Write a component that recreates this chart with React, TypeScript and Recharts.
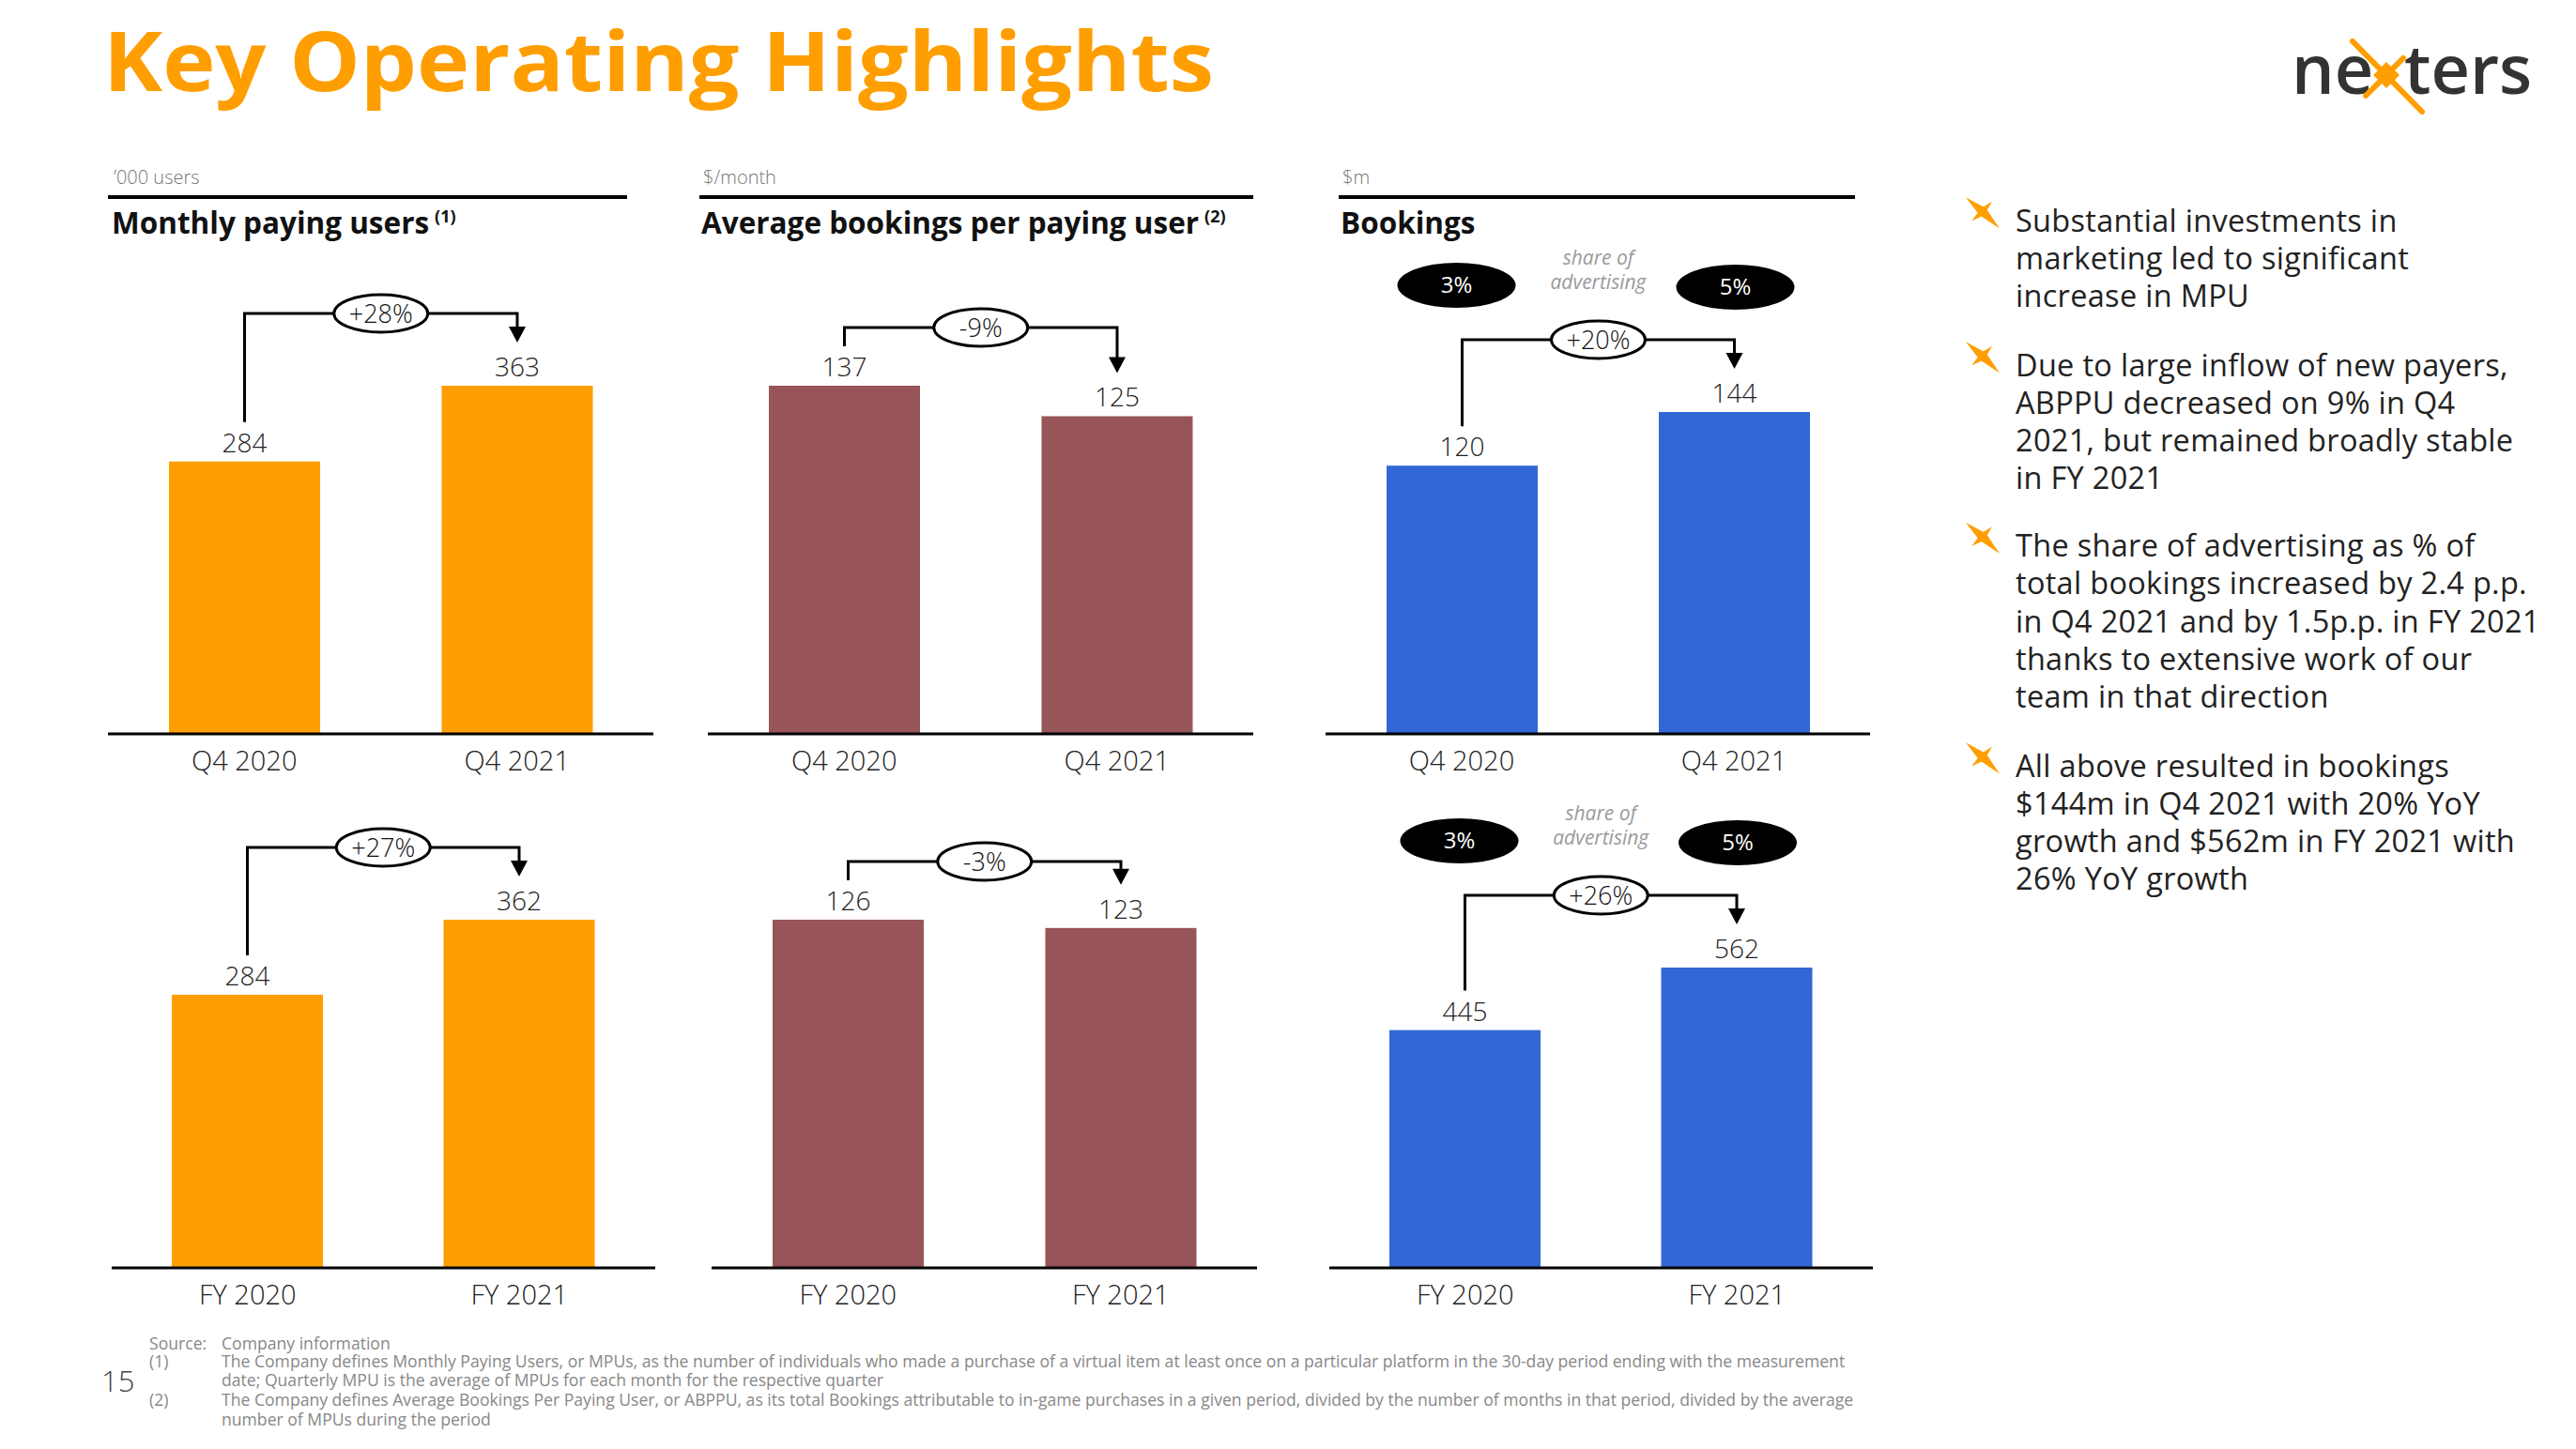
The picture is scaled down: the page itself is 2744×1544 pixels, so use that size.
import React from 'react'
import { BarChart, Bar, XAxis, YAxis, LabelList } from 'recharts'

const quarterLabels = ['Q4 2020', 'Q4 2021']
const yearLabels = ['FY 2020', 'FY 2021']
const mpuQuarter = [284, 363]
const mpuYear = [284, 362]
const abppuQuarter = [137, 125]
const abppuYear = [126, 123]
const bookingsQuarter = [120, 144]
const bookingsYear = [445, 562]
const growthQuarter = ['+28%', '-9%', '+20%']
const growthYear = ['+27%', '-3%', '+26%']
const adShareQuarter = ['3%', '5%']
const adShareYear = ['3%', '5%']

const panelTitles = ['Monthly paying users', 'Average bookings per paying user', 'Bookings']
const panelNotes = ['(1)', '(2)', '']
const panelUnits = ['\u2019000 users', '$/month', '$m']

const bullets = [
  ['Substantial investments in', 'marketing led to significant', 'increase in MPU'],
  ['Due to large inflow of new payers,', 'ABPPU decreased on 9% in Q4', '2021, but remained broadly stable', 'in FY 2021'],
  ['The share of advertising as % of', 'total bookings increased by 2.4 p.p.', 'in Q4 2021 and by 1.5p.p. in FY 2021', 'thanks to extensive work of our', 'team in that direction'],
  ['All above resulted in bookings', '$144m in Q4 2021 with 20% YoY', 'growth and $562m in FY 2021 with', '26% YoY growth'],
]

const footnotes = [
  ['Source:', 'Company information'],
  ['(1)', 'The Company defines Monthly Paying Users, or MPUs, as the number of individuals who made a purchase of a virtual item at least once on a particular platform in the 30-day period ending with the measurement'],
  ['', 'date; Quarterly MPU is the average of MPUs for each month for the respective quarter'],
  ['(2)', 'The Company defines Average Bookings Per Paying User, or ABPPU, as its total Bookings attributable to in-game purchases in a given period, divided by the number of months in that period, divided by the average'],
  ['', 'number of MPUs during the period'],
]

const FONT = "'Open Sans', 'Noto Sans', sans-serif"
const ORANGE = '#FF9E00'
const MAROON = '#975559'
const BLUE = '#3367D6'

type Panel = {
  left: number
  top: number
  width: number
  height: number
  labels: string[]
  values: number[]
  color: string
  growth: string
  share?: string[]
  tallest: number
}

const AXIS_H = 58

function makeShape(p: Panel) {
  return (props: any) => {
    const { x, y, width, height, index, fill } = props
    const rect = <rect x={x} y={y} width={width} height={height} fill={fill} />
    if (index !== p.values.length - 1) return rect
    const base = y + height
    const k = height / p.values[index]
    const band = p.width / p.values.length
    const cx1 = x + width / 2
    const cx0 = cx1 - band
    const top0 = base - p.values[0] * k
    const top1 = y
    const by = Math.min(top0, top1) - (top0 <= top1 ? 62 : 77)
    const mid = (cx0 + cx1) / 2
    const tip = top1 - 46
    return (
      <g>
        {rect}
        <path
          d={`M${cx0},${top0 - 42} V${by} H${cx1} V${tip - 16}`}
          fill="none"
          stroke="#000"
          strokeWidth={3}
        />
        <polygon points={`${cx1 - 9},${tip - 17} ${cx1 + 9},${tip - 17} ${cx1},${tip}`} fill="#000" />
        <ellipse cx={mid} cy={by} rx={50} ry={20} fill="#fff" stroke="#000" strokeWidth={3} />
        <text x={mid} y={by + 10} textAnchor="middle" fontSize={27} fontWeight={300} fill="#111" fontFamily={FONT}>
          {p.growth}
        </text>
        {p.share && (
          <g fontFamily={FONT}>
            <ellipse cx={cx0 - 6} cy={by - 58} rx={63} ry={24} fill="#000" />
            <text x={cx0 - 6} y={by - 50} textAnchor="middle" fontSize={24} fill="#fff">{p.share[0]}</text>
            <ellipse cx={cx1 + 1} cy={by - 56} rx={63} ry={24} fill="#000" />
            <text x={cx1 + 1} y={by - 48} textAnchor="middle" fontSize={24} fill="#fff">{p.share[1]}</text>
            <text x={mid} y={by - 80} textAnchor="middle" fontSize={21} fontStyle="italic" fill="#9a9a9a">share of</text>
            <text x={mid} y={by - 54} textAnchor="middle" fontSize={21} fontStyle="italic" fill="#9a9a9a">advertising</text>
          </g>
        )}
      </g>
    )
  }
}

function PanelChart({ p }: { p: Panel }) {
  const data = p.labels.map((name, i) => ({ name, value: p.values[i] }))
  const plotH = p.height - AXIS_H
  const yMax = (Math.max(...p.values) * plotH) / p.tallest
  return (
    <div style={{ position: 'absolute', left: p.left, top: p.top }}>
      <BarChart width={p.width} height={p.height} data={data} margin={{ top: 0, right: 0, left: 0, bottom: 0 }}>
        <XAxis
          dataKey="name"
          height={AXIS_H}
          axisLine={{ stroke: '#000', strokeWidth: 3 }}
          tickLine={false}
          tickSize={0}
          tickMargin={18}
          tick={{ fontSize: 29, fill: '#222', fontFamily: FONT, fontWeight: 300 }}
        />
        <YAxis hide domain={[0, yMax]} />
        <Bar dataKey="value" fill={p.color} barSize={161} isAnimationActive={false} shape={makeShape(p)}>
          <LabelList
            dataKey="value"
            position="top"
            offset={10}
            style={{ fontSize: 28, fill: '#222', fontFamily: FONT, fontWeight: 300 }}
          />
        </Bar>
      </BarChart>
    </div>
  )
}

const TOP_Y = 250
const TOP_H = 590
const BOT_Y = 840
const BOT_H = 569

const panels: Panel[] = [
  { left: 115, top: TOP_Y, width: 581, height: TOP_H, labels: quarterLabels, values: mpuQuarter, color: ORANGE, growth: growthQuarter[0], tallest: 371 },
  { left: 754, top: TOP_Y, width: 581, height: TOP_H, labels: quarterLabels, values: abppuQuarter, color: MAROON, growth: growthQuarter[1], tallest: 371 },
  { left: 1412, top: TOP_Y, width: 580, height: TOP_H, labels: quarterLabels, values: bookingsQuarter, color: BLUE, growth: growthQuarter[2], share: adShareQuarter, tallest: 343 },
  { left: 119, top: BOT_Y, width: 579, height: BOT_H, labels: yearLabels, values: mpuYear, color: ORANGE, growth: growthYear[0], tallest: 371 },
  { left: 758, top: BOT_Y, width: 581, height: BOT_H, labels: yearLabels, values: abppuYear, color: MAROON, growth: growthYear[1], tallest: 371 },
  { left: 1416, top: BOT_Y, width: 579, height: BOT_H, labels: yearLabels, values: bookingsYear, color: BLUE, growth: growthYear[2], share: adShareYear, tallest: 320 },
]

const headerX = [119, 747, 1428]
const ruleX = [[115, 668], [745, 1335], [1426, 1976]]

function Star({ cx, cy, s }: { cx: number; cy: number; s: number }) {
  return (
    <g fill={ORANGE}>
      <polygon points={`${cx - s},${cy - s * 0.85} ${cx + s * 0.2},${cy - s * 0.2} ${cx + s},${cy + s} ${cx - s * 0.2},${cy + s * 0.2}`} />
      <polygon points={`${cx - s * 0.65},${cy + s * 0.55} ${cx - s * 0.1},${cy - s * 0.2} ${cx + s * 0.55},${cy - s * 0.6} ${cx + s * 0.1},${cy + s * 0.2}`} />
    </g>
  )
}

const bulletCenters = [
  [134, 157, 180],
  [222, 245, 268, 291],
  [332, 355, 378, 401, 424],
  [466, 489, 512, 535],
]
const footY = [1438, 1457, 1477, 1498, 1519]

export default function App() {
  return (
    <div style={{ position: 'absolute', left: 0, top: 0, width: 2744, height: 1544, background: '#fff', overflow: 'hidden' }}>
      <style>{'.recharts-surface{overflow:visible}'}</style>
      <svg width={2744} height={1544} style={{ position: 'absolute', left: 0, top: 0 }} fontFamily={FONT}>
        <text x={110} y={97} fontSize={88} fontWeight={700} fill={ORANGE} textLength={1183} lengthAdjust="spacingAndGlyphs">
          Key Operating Highlights
        </text>
        <g>
          <text x={2441} y={100} fontSize={72} fontWeight={600} fill="#333">ne</text>
          <text x={2561} y={100} fontSize={72} fontWeight={600} fill="#333">ters</text>
          <line x1={2506} y1={44} x2={2580} y2={119} stroke={ORANGE} strokeWidth={6} strokeLinecap="round" />
          <line x1={2520} y1={102} x2={2560} y2={62} stroke={ORANGE} strokeWidth={6} strokeLinecap="round" />
          <polygon points="2542,66 2556,80 2542,94 2528,80" fill={ORANGE} />
        </g>
        {panelTitles.map((t, i) => (
          <g key={t}>
            <text x={headerX[i] + 2} y={196} fontSize={20} fill="#777" fontWeight={300}>{panelUnits[i]}</text>
            <rect x={ruleX[i][0]} y={208} width={ruleX[i][1] - ruleX[i][0]} height={4} fill="#000" />
            <text x={headerX[i]} y={249} fontSize={31.5} fontWeight={700} fill="#111">
              {t}
              {panelNotes[i] && (
                <tspan fontSize={18} dx={6} dy={-12}>{panelNotes[i]}</tspan>
              )}
            </text>
          </g>
        ))}
        {bullets.map((lines, b) => (
          <g key={b}>
            <Star cx={2112} cy={bulletCenters[b][0] * 1.75 - 9} s={18} />
            {lines.map((l, j) => (
              <text
                key={j}
                x={2147}
                y={bulletCenters[b][j] * 1.75 + 12}
                fontSize={32.5}
                letterSpacing={0.3}
                fill="#222"
                fontWeight={400}
              >
                {l}
              </text>
            ))}
          </g>
        ))}
        <text x={108} y={1483} fontSize={31} fill="#444" fontWeight={300}>15</text>
        {footnotes.map(([k, t], i) => (
          <g key={i} fontSize={17.6} fill="#888">
            {k && <text x={159} y={footY[i]}>{k}</text>}
            <text x={236} y={footY[i]}>{t}</text>
          </g>
        ))}
      </svg>
      {panels.map((p, i) => (
        <PanelChart key={i} p={p} />
      ))}
    </div>
  )
}
